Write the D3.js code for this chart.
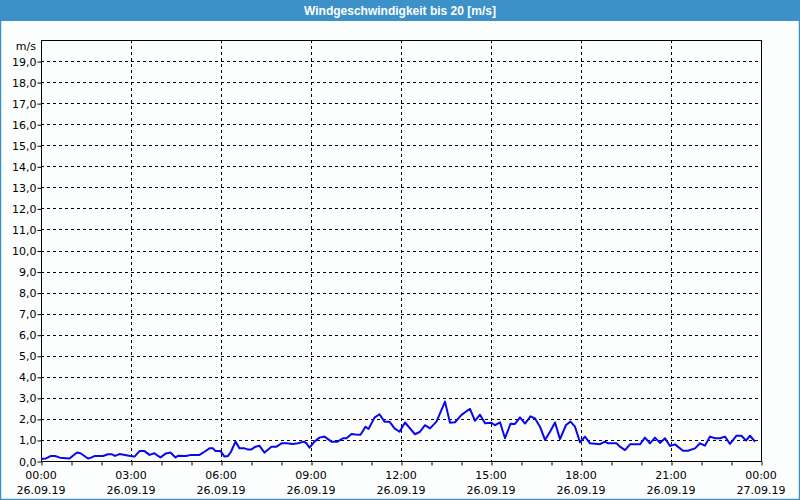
<!DOCTYPE html>
<html>
<head>
<meta charset="utf-8">
<script src="https://cdn.jsdelivr.net/npm/d3@7"></script>
<style>
  html, body { margin: 0; padding: 0; background: #fbfefd; }
  svg { display: block; }
</style>
</head>
<body>
<script>
var width = 800,
    height = 500,
    margin = { top: 40, right: 39, bottom: 39, left: 41 };

// minutes since 26.09.19 00:00
var minutes = [0, 10, 20, 28, 38, 57, 72, 79, 94, 100, 108, 124, 134, 142, 148, 157, 168, 179, 187, 197,
    207, 217, 227, 234, 239, 250, 259, 269, 275, 290, 300, 317, 327, 337, 344, 349, 359, 367, 374, 380,
    389, 397, 407, 413, 421, 429, 437, 447, 461, 471, 481, 491, 504, 514, 526, 531, 537, 547, 557, 567,
    581, 593, 604, 611, 621, 629, 639, 649, 655, 667, 677, 687, 697, 707, 717, 728, 748, 758, 768, 778,
    791, 808, 818, 828, 841, 858, 868, 878, 888, 901, 908, 918, 928, 939, 948, 958, 968, 979, 988, 998,
    1008, 1018, 1028, 1038, 1050, 1059, 1068, 1078, 1088, 1098, 1118, 1128, 1134, 1151, 1158, 1168, 1178, 1198, 1208, 1218,
    1228, 1238, 1248, 1258, 1268, 1284, 1294, 1308, 1318, 1328, 1338, 1348, 1358, 1368, 1378, 1391, 1401, 1410, 1418, 1428];

// wind speed [m/s]
var speed = [0.10, 0.12, 0.24, 0.24, 0.16, 0.12, 0.40, 0.37, 0.12, 0.16, 0.24, 0.24, 0.32, 0.32, 0.24, 0.33, 0.29, 0.24, 0.21, 0.47,
    0.47, 0.29, 0.37, 0.24, 0.17, 0.36, 0.40, 0.17, 0.25, 0.24, 0.29, 0.29, 0.44, 0.60, 0.60, 0.47, 0.47, 0.21, 0.24, 0.44,
    0.92, 0.60, 0.60, 0.55, 0.55, 0.68, 0.72, 0.40, 0.68, 0.68, 0.84, 0.84, 0.81, 0.84, 0.92, 0.84, 0.63, 0.92, 1.11, 1.16,
    0.92, 0.92, 1.08, 1.08, 1.28, 1.26, 1.25, 1.63, 1.52, 2.06, 2.22, 1.87, 1.87, 1.55, 1.39, 1.83, 1.27, 1.39, 1.70, 1.55,
    1.87, 2.82, 1.82, 1.84, 2.19, 2.48, 1.91, 2.20, 1.79, 1.82, 1.70, 1.84, 1.08, 1.77, 1.76, 2.07, 1.78, 2.12, 2.02, 1.63,
    1.00, 1.39, 1.83, 1.04, 1.71, 1.87, 1.63, 0.89, 1.16, 0.84, 0.80, 0.92, 0.84, 0.84, 0.68, 0.52, 0.79, 0.79, 1.11, 0.84,
    1.11, 0.86, 1.08, 0.71, 0.79, 0.49, 0.49, 0.60, 0.84, 0.73, 1.16, 1.08, 1.08, 1.16, 0.81, 1.20, 1.20, 0.97, 1.20, 0.92];

var yTicks = d3.range(0, 20);
var title = "Windgeschwindigkeit bis 20 [m/s]",
    unit = "m/s";

var start = new Date(2019, 8, 26, 0, 0),
    end = new Date(2019, 8, 27, 0, 0);

var data = minutes.map(function(m, i) {
    return { t: new Date(start.getTime() + m * 60000), v: speed[i] };
});

var x = d3.scaleTime()
    .domain([start, end])
    .range([margin.left, width - margin.right]);

var y = d3.scaleLinear()
    .domain([0, 20])
    .range([height - margin.bottom, margin.top]);

var svg = d3.select("body").append("svg")
    .attr("width", width)
    .attr("height", height)
    .style("font-family", "DejaVu Sans, Verdana, sans-serif");

svg.append("rect")
    .attr("x", 0.5).attr("y", 0.5)
    .attr("width", width - 1).attr("height", height - 1)
    .attr("fill", "#fbfefd")
    .attr("stroke", "#3c91c8")
    .attr("stroke-width", 1.5);

// title bar
svg.append("rect")
    .attr("x", 0).attr("y", 0)
    .attr("width", width).attr("height", 21)
    .attr("fill", "#3c91c8");

svg.append("text")
    .attr("x", width / 2)
    .attr("y", 14.5)
    .attr("text-anchor", "middle")
    .attr("fill", "#fff")
    .style("font-family", "Liberation Sans, Arial, sans-serif")
    .style("font-weight", "bold")
    .style("font-size", "12px")
    .text(title);

// horizontal grid
svg.append("g")
    .selectAll("line")
    .data(yTicks.filter(function(d) { return d > 0; }))
    .enter().append("line")
    .attr("x1", margin.left)
    .attr("x2", width - margin.right)
    .attr("y1", function(d) { return Math.round(y(d)) + 0.5; })
    .attr("y2", function(d) { return Math.round(y(d)) + 0.5; })
    .attr("stroke", "#000")
    .attr("stroke-dasharray", "3,3");

// vertical grid
var majors = d3.timeHour.every(3).range(start, end).filter(function(d) { return +d > +start; });
svg.append("g")
    .selectAll("line")
    .data(majors)
    .enter().append("line")
    .attr("x1", function(d) { return Math.round(x(d)) + 0.5; })
    .attr("x2", function(d) { return Math.round(x(d)) + 0.5; })
    .attr("y1", margin.top)
    .attr("y2", height - margin.bottom)
    .attr("stroke", "#000")
    .attr("stroke-dasharray", "3,3");

// y axis
var yAxis = svg.append("g")
    .attr("transform", "translate(" + (margin.left + 0.5) + ",0.5)")
    .call(d3.axisLeft(y)
        .tickValues(yTicks)
        .tickSize(4)
        .tickFormat(function(d) { return d3.format(".1f")(d).replace(".", ","); }));

yAxis.select(".domain").remove();
yAxis.selectAll("text")
    .attr("x", -5)
    .style("font-size", "11px")
    .style("font-family", "DejaVu Sans, Verdana, sans-serif")
    .attr("fill", "#000");

svg.append("text")
    .attr("x", 36)
    .attr("y", y(20) + 10)
    .attr("text-anchor", "end")
    .style("font-size", "11px")
    .text(unit);

// x axis
var xAxis = svg.append("g")
    .attr("transform", "translate(0.5," + (height - margin.bottom + 0.5) + ")")
    .call(d3.axisBottom(x)
        .ticks(d3.timeHour.every(1))
        .tickSize(4)
        .tickFormat(""));
xAxis.select(".domain").remove();

var labels = svg.append("g")
    .selectAll("g")
    .data(d3.timeHour.every(3).range(start, new Date(end.getTime() + 1)))
    .enter().append("g")
    .attr("transform", function(d) { return "translate(" + x(d) + "," + (height - margin.bottom) + ")"; });

labels.append("text")
    .attr("y", 18)
    .attr("text-anchor", "middle")
    .style("font-size", "11px")
    .text(d3.timeFormat("%H:%M"));

labels.append("text")
    .attr("y", 33)
    .attr("text-anchor", "middle")
    .style("font-size", "11px")
    .text(d3.timeFormat("%d.%m.%y"));

// frame
svg.append("rect")
    .attr("x", margin.left + 0.5)
    .attr("y", margin.top + 0.5)
    .attr("width", width - margin.left - margin.right)
    .attr("height", height - margin.top - margin.bottom)
    .attr("fill", "none")
    .attr("stroke", "#000");

// data line
svg.append("path")
    .datum(data)
    .attr("fill", "none")
    .attr("stroke", "#0808ee")
    .attr("stroke-width", 2)
    .attr("stroke-linejoin", "round")
    .attr("d", d3.line()
        .x(function(d) { return x(d.t); })
        .y(function(d) { return y(d.v); }));
</script>
</body>
</html>
